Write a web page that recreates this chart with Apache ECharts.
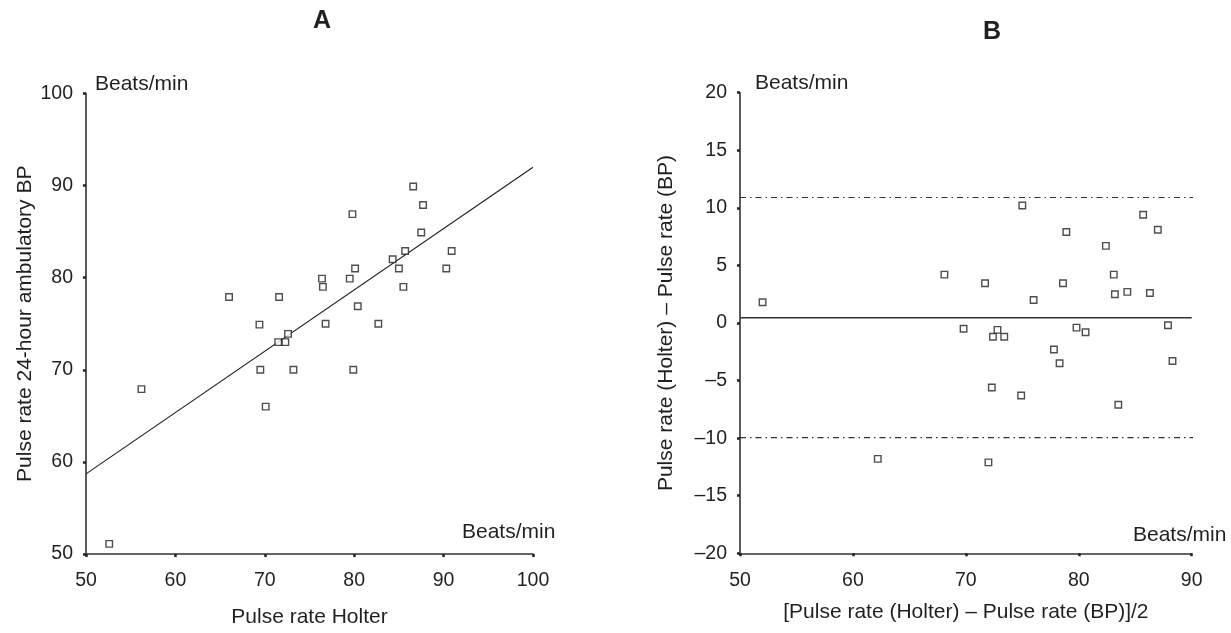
<!DOCTYPE html>
<html>
<head>
<meta charset="utf-8">
<script src="https://cdn.jsdelivr.net/npm/echarts@6/dist/echarts.min.js"></script>
<style>
html,body{margin:0;padding:0;background:#fff;}
#c{width:1231px;height:633px;}
</style>
</head>
<body>
<div id="c"></div>
<script>
// Panel A: Holter vs 24-hour ambulatory BP pulse rate
var holterA = [52.6,56.2,66.0,69.4,69.5,70.1,71.5,71.6,72.3,72.6,73.2,76.4,76.5,76.8,79.5,79.8,79.9,80.1,80.4,82.7,84.3,85.0,85.5,85.7,86.6,87.5,87.7,90.3,90.9];
var bpA     = [51.1,67.9,77.9,74.9,70.0,66.0,73.0,77.9,73.0,73.9,70.0,79.9,79.0,75.0,79.9,86.9,70.0,81.0,76.9,75.0,82.0,81.0,79.0,82.9,89.9,84.9,87.9,81.0,82.9];
var regX = [50, 100];
var regY = [58.7, 92.0];

// Panel B: Bland-Altman
var meanB = [52.0,62.2,68.1,69.8,71.7,72.0,72.3,72.4,72.8,73.4,74.9,75.0,76.0,77.8,78.3,78.6,78.9,79.8,80.6,82.4,83.1,83.2,83.5,84.3,85.7,86.3,87.0,87.9,88.3];
var diffB = [1.8,-11.8,4.2,-0.5,3.45,-12.1,-5.6,-1.2,-0.6,-1.2,-6.3,10.2,2.0,-2.3,-3.5,3.45,7.9,-0.4,-0.8,6.7,4.2,2.5,-7.1,2.7,9.4,2.6,8.1,-0.2,-3.3];
var meanLineX = [50, 90];
var meanDiff = 0.45;
var limitX = [50, 91];
var upperLimit = 10.9;
var lowerLimit = -9.95;

var xTicksA = [50, 100, 10];
var yTicksA = [50, 100, 10];
var xTicksB = [50, 90, 10];
var yTicksB = [-20, 20, 5];

var FONT = 'Liberation Sans, Arial, sans-serif';
var INK = '#231f20';

function pairs(xs, ys){ return xs.map(function(x,i){ return [x, ys[i]]; }); }
function hline(xs, y){ return xs.map(function(x){ return [x, y]; }); }
function fmt(v){ return String(v).replace('-', '\u2013'); }

function axisBase(isX){
  return {
    type: 'value',
    axisLine: {show: true, onZero: false, lineStyle: {color: '#333', width: 1.6}},
    axisTick: {show: true, inside: false, length: 3, lineStyle: {color: '#222', width: 2.5}},
    splitLine: {show: false},
    axisLabel: {color: INK, fontSize: 19.5, fontFamily: FONT, margin: isX ? 17 : 13, formatter: fmt},
    nameTextStyle: {color: INK, fontSize: 21, fontFamily: FONT}
  };
}

var xA = Object.assign(axisBase(true), {gridIndex: 0, min: xTicksA[0], max: xTicksA[1], interval: xTicksA[2],
  name: 'Pulse rate Holter', nameLocation: 'middle', nameGap: 53});
var yA = Object.assign(axisBase(false), {gridIndex: 0, min: yTicksA[0], max: yTicksA[1], interval: yTicksA[2],
  name: 'Pulse rate 24-hour ambulatory BP', nameLocation: 'middle', nameGap: 50});
var xB = Object.assign(axisBase(true), {gridIndex: 1, min: xTicksB[0], max: xTicksB[1], interval: xTicksB[2],
  name: '[Pulse rate (Holter) \u2013 Pulse rate (BP)]/2', nameLocation: 'middle', nameGap: 48});
var yB = Object.assign(axisBase(false), {gridIndex: 1, min: yTicksB[0], max: yTicksB[1], interval: yTicksB[2],
  name: 'Pulse rate (Holter) \u2013 Pulse rate (BP)', nameLocation: 'middle', nameGap: 63});

var sym = {color: '#fff', borderColor: '#222', borderWidth: 1.4};

var option = {
  animation: false,
  backgroundColor: '#fff',
  grid: [
    {left: 86, top: 93.5, width: 447, height: 463.5},
    {left: 740, top: 92.7, width: 451.7, height: 460.6}
  ],
  xAxis: [xA, xB],
  yAxis: [yA, yB],
  series: [
    {type: 'line', xAxisIndex: 0, yAxisIndex: 0, data: pairs(regX, regY), symbol: 'none',
     lineStyle: {color: '#222', width: 1.2}, z: 2},
    {type: 'scatter', xAxisIndex: 0, yAxisIndex: 0, data: pairs(holterA, bpA), symbol: 'rect',
     symbolSize: 6.5, itemStyle: sym, z: 3},
    {type: 'line', xAxisIndex: 1, yAxisIndex: 1, data: hline(meanLineX, meanDiff), symbol: 'none',
     lineStyle: {color: '#333', width: 1.5}, z: 2},
    {type: 'line', xAxisIndex: 1, yAxisIndex: 1, data: hline(limitX, upperLimit), symbol: 'none', clip: false,
     lineStyle: {color: '#333', width: 1.2, type: [6, 4, 1.5, 4]}, z: 2},
    {type: 'line', xAxisIndex: 1, yAxisIndex: 1, data: hline(limitX, lowerLimit), symbol: 'none', clip: false,
     lineStyle: {color: '#333', width: 1.2, type: [6, 4, 1.5, 4]}, z: 2},
    {type: 'scatter', xAxisIndex: 1, yAxisIndex: 1, data: pairs(meanB, diffB), symbol: 'rect',
     symbolSize: 6.5, itemStyle: sym, z: 3}
  ],
  graphic: [
    {type: 'text', x: 322, y: 21, style: {text: 'A', font: 'bold 25px ' + FONT, fill: INK, align: 'center', verticalAlign: 'middle'}},
    {type: 'text', x: 992, y: 32, style: {text: 'B', font: 'bold 25px ' + FONT, fill: INK, align: 'center', verticalAlign: 'middle'}},
    {type: 'text', x: 95, y: 84.5, style: {text: 'Beats/min', font: '21px ' + FONT, fill: INK, align: 'left', verticalAlign: 'middle'}},
    {type: 'text', x: 755, y: 83.7, style: {text: 'Beats/min', font: '21px ' + FONT, fill: INK, align: 'left', verticalAlign: 'middle'}},
    {type: 'text', x: 462, y: 532.5, style: {text: 'Beats/min', font: '21px ' + FONT, fill: INK, align: 'left', verticalAlign: 'middle'}},
    {type: 'text', x: 1133, y: 535, style: {text: 'Beats/min', font: '21px ' + FONT, fill: INK, align: 'left', verticalAlign: 'middle'}}
  ]
};

var chart = echarts.init(document.getElementById('c'), null, {renderer: 'canvas'});
chart.setOption(option);
</script>
</body>
</html>
